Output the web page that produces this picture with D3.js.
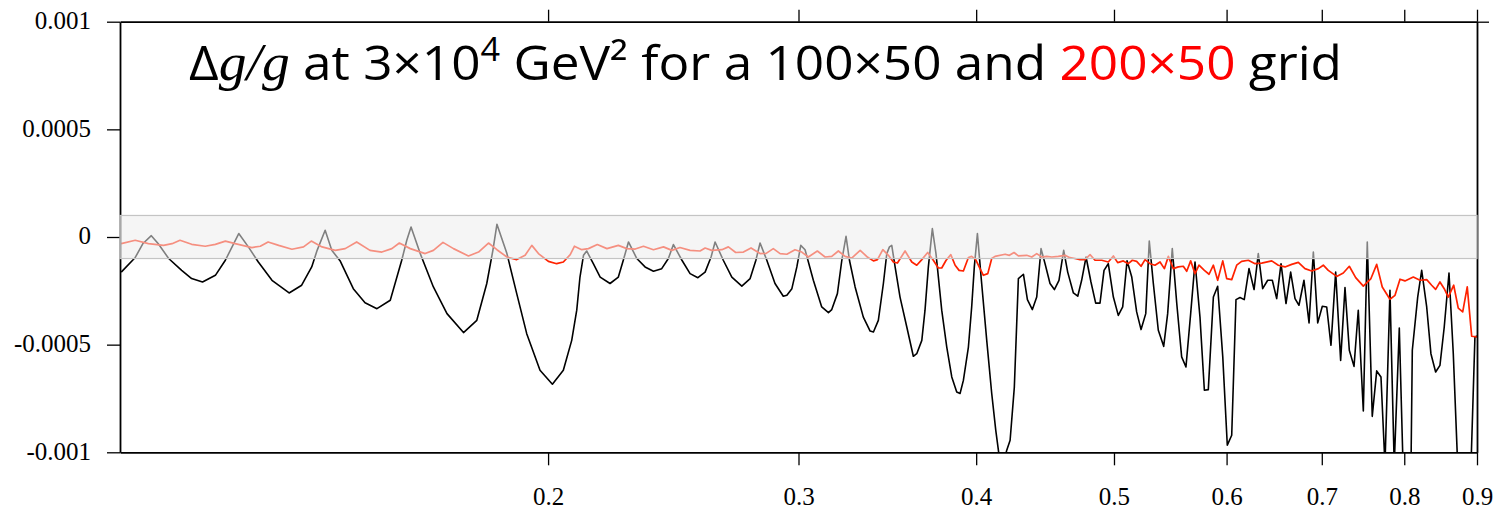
<!DOCTYPE html>
<html><head><meta charset="utf-8">
<script src="https://cdn.jsdelivr.net/npm/d3@7"></script>
<style>body{margin:0;background:#fff;} svg{display:block}</style>
</head><body><svg id="c" width="1509" height="516"></svg>
<script>
// ---- data ----
const xTicks = [0.2, 0.3, 0.4, 0.5, 0.6, 0.7, 0.8, 0.9];
const xTickLabels = ["0.2", "0.3", "0.4", "0.5", "0.6", "0.7", "0.8", "0.9"];
const yTicks = [-0.001, -0.0005, 0, 0.0005, 0.001];
const yTickLabels = ["-0.001", "-0.0005", "0", "0.0005", "0.001"];
const bandLimit = 0.0001;

// 100x50 grid: [x, delta g / g]
const grid100 = [
[0.1002,-1.63e-4],[0.1025,-0.95e-4],[0.1038,-0.30e-4],[0.1052,0.06e-4],[0.1064,-0.31e-4],[0.1082,-1.00e-4],
[0.1105,-1.55e-4],[0.1123,-1.93e-4],[0.1143,-2.09e-4],[0.1167,-1.78e-4],[0.1186,-1.08e-4],[0.1212,0.16e-4],
[0.1231,-0.46e-4],[0.1251,-1.16e-4],[0.1279,-2.01e-4],[0.1315,-2.60e-4],[0.1342,-2.24e-4],[0.1364,-1.39e-4],
[0.1376,-0.62e-4],[0.1394,0.31e-4],[0.1409,-0.62e-4],[0.1428,-1.10e-4],[0.1459,-2.40e-4],[0.1487,-3.05e-4],
[0.1516,-3.33e-4],[0.1549,-2.94e-4],[0.1578,-1.08e-4],[0.1591,-0.15e-4],[0.1602,0.46e-4],[0.1626,-0.77e-4],
[0.1661,-2.32e-4],[0.1698,-3.56e-4],[0.1744,-4.44e-4],[0.1782,-3.87e-4],[0.1811,-2.16e-4],[0.1829,-0.62e-4],
[0.1841,0.59e-4],[0.1871,-0.77e-4],[0.1901,-2.63e-4],[0.1932,-4.49e-4],[0.1974,-6.19e-4],[0.2014,-6.84e-4],
[0.2050,-6.19e-4],[0.2078,-4.80e-4],[0.2095,-3.40e-4],[0.2106,-1.86e-4],[0.2118,-0.85e-4],[0.2129,-0.65e-4],
[0.2152,-1.24e-4],[0.2176,-1.86e-4],[0.2211,-2.16e-4],[0.2241,-1.86e-4],[0.2259,-1.08e-4],[0.2278,-0.23e-4],
[0.2309,-1.00e-4],[0.2340,-1.39e-4],[0.2372,-1.59e-4],[0.2404,-1.47e-4],[0.2430,-1.00e-4],[0.2450,-0.35e-4],
[0.2484,-1.08e-4],[0.2517,-1.70e-4],[0.2549,-1.89e-4],[0.2579,-1.63e-4],[0.2604,-0.93e-4],[0.2621,-0.23e-4],
[0.2656,-1.08e-4],[0.2693,-1.86e-4],[0.2737,-2.28e-4],[0.2774,-1.93e-4],[0.2800,-1.08e-4],[0.2819,-0.28e-4],
[0.2850,-1.08e-4],[0.2888,-2.16e-4],[0.2927,-2.75e-4],[0.2944,-2.71e-4],[0.2968,-2.40e-4],[0.2992,-1.39e-4],
[0.3011,-0.39e-4],[0.3032,-0.59e-4],[0.3073,-2.01e-4],[0.3115,-3.25e-4],[0.3149,-3.51e-4],[0.3166,-3.37e-4],
[0.3195,-2.63e-4],[0.3218,-1.08e-4],[0.3240,0.03e-4],[0.3258,-1.08e-4],[0.3288,-2.32e-4],[0.3332,-3.72e-4],
[0.3369,-4.37e-4],[0.3387,-4.41e-4],[0.3414,-3.87e-4],[0.3442,-2.16e-4],[0.3461,-0.77e-4],[0.3476,-0.46e-4],
[0.3489,-0.39e-4],[0.3508,-1.39e-4],[0.3536,-2.79e-4],[0.3575,-4.18e-4],[0.3613,-5.54e-4],[0.3633,-5.42e-4],
[0.3663,-4.80e-4],[0.3682,-3.40e-4],[0.3702,-1.39e-4],[0.3726,0.39e-4],[0.3748,-0.77e-4],[0.3783,-3.40e-4],
[0.3814,-5.11e-4],[0.3845,-6.50e-4],[0.3876,-7.20e-4],[0.3897,-7.27e-4],[0.3918,-6.66e-4],[0.3950,-5.11e-4],
[0.3971,-3.25e-4],[0.3988,-1.39e-4],[0.4008,0.16e-4],[0.4032,-1.86e-4],[0.4069,-4.80e-4],[0.4102,-7.27e-4],
[0.4129,-8.98e-4],[0.4158,-10.5e-4],[0.4178,-10.6e-4],[0.4203,-9.90e-4],[0.4226,-9.44e-4],[0.4255,-6.97e-4],
[0.4283,-1.93e-4],[0.4318,-1.73e-4],[0.4346,-2.91e-4],[0.4381,-3.37e-4],[0.4412,-2.79e-4],[0.4443,-0.54e-4],
[0.4472,-1.24e-4],[0.4508,-2.16e-4],[0.4540,-2.44e-4],[0.4574,-2.01e-4],[0.4609,-0.62e-4],[0.4639,-1.63e-4],
[0.4682,-2.60e-4],[0.4715,-2.75e-4],[0.4745,-2.01e-4],[0.4779,-0.93e-4],[0.4817,-2.09e-4],[0.4854,-3.07e-4],
[0.4888,-3.07e-4],[0.4920,-1.55e-4],[0.4954,-1.24e-4],[0.4995,-2.79e-4],[0.5035,-3.64e-4],[0.5071,-3.25e-4],
[0.5107,-1.10e-4],[0.5146,-1.86e-4],[0.5187,-3.48e-4],[0.5224,-4.30e-4],[0.5264,-3.56e-4],[0.5294,-0.19e-4],
[0.5329,-2.16e-4],[0.5372,-4.33e-4],[0.5419,-5.08e-4],[0.5454,-3.56e-4],[0.5495,-0.54e-4],[0.5535,-3.09e-4],
[0.5579,-5.57e-4],[0.5618,-6.04e-4],[0.5661,-3.56e-4],[0.5701,-1.16e-4],[0.5747,-3.72e-4],[0.5788,-7.12e-4],
[0.5825,-7.09e-4],[0.5873,-2.79e-4],[0.5914,-2.29e-4],[0.5963,-5.57e-4],[0.6007,-9.67e-4],[0.6050,-9.21e-4],
[0.6092,-2.91e-4],[0.6132,-2.81e-4],[0.6174,-2.91e-4],[0.6222,-1.47e-4],[0.6273,-2.44e-4],[0.6316,-0.77e-4],
[0.6361,-2.40e-4],[0.6413,-2.01e-4],[0.6461,-2.01e-4],[0.6507,-2.86e-4],[0.6553,-1.24e-4],[0.6606,-3.09e-4],
[0.6656,-1.63e-4],[0.6703,-2.86e-4],[0.6746,-3.17e-4],[0.6801,-2.01e-4],[0.6857,-3.99e-4],[0.6905,-0.70e-4],
[0.6954,-3.99e-4],[0.7006,-3.22e-4],[0.7056,-3.25e-4],[0.7105,-5.03e-4],[0.7159,-1.63e-4],[0.7217,-5.73e-4],
[0.7268,-2.35e-4],[0.7319,-5.26e-4],[0.7375,-6.01e-4],[0.7426,-3.40e-4],[0.7487,-8.08e-4],[0.7535,-0.23e-4],
[0.7596,-8.33e-4],[0.7651,-6.22e-4],[0.7704,-6.50e-4],[0.7754,-10.6e-4],[0.7817,-2.48e-4],[0.7871,-10.6e-4],
[0.7936,-4.23e-4],[0.7984,-10.6e-4],[0.8035,-11.5e-4],[0.8088,-10.6e-4],[0.8105,-5.26e-4],[0.8176,-2.79e-4],
[0.8229,-1.55e-4],[0.8296,-3.25e-4],[0.8353,-5.42e-4],[0.8417,-6.27e-4],[0.8476,-5.96e-4],[0.8535,-4.18e-4],
[0.8601,-1.67e-4],[0.8661,-5.42e-4],[0.8723,-10.6e-4],[0.8812,-12.0e-4],[0.8913,-10.6e-4],[0.8970,-4.64e-4],
[0.9000,-4.60e-4]
];

// 200x50 grid: [x, delta g / g]
const grid200 = [
[0.1002,-0.31e-4],[0.1025,-0.15e-4],[0.1047,-0.31e-4],[0.1073,-0.39e-4],[0.1088,-0.31e-4],[0.1102,-0.15e-4],
[0.1123,-0.34e-4],[0.1148,-0.43e-4],[0.1167,-0.34e-4],[0.1186,-0.19e-4],[0.1205,-0.31e-4],[0.1238,-0.49e-4],
[0.1255,-0.43e-4],[0.1271,-0.23e-4],[0.1293,-0.39e-4],[0.1321,-0.57e-4],[0.1346,-0.46e-4],[0.1363,-0.19e-4],
[0.1387,-0.46e-4],[0.1417,-0.62e-4],[0.1440,-0.54e-4],[0.1467,-0.23e-4],[0.1499,-0.62e-4],[0.1528,-0.70e-4],
[0.1553,-0.54e-4],[0.1572,-0.28e-4],[0.1600,-0.54e-4],[0.1639,-0.77e-4],[0.1661,-0.62e-4],[0.1687,-0.25e-4],
[0.1716,-0.54e-4],[0.1758,-0.88e-4],[0.1787,-0.70e-4],[0.1816,-0.28e-4],[0.1841,-0.59e-4],[0.1871,-0.93e-4],
[0.1901,-1.05e-4],[0.1927,-0.85e-4],[0.1948,-0.39e-4],[0.1969,-0.77e-4],[0.2001,-1.13e-4],[0.2028,-1.24e-4],
[0.2050,-1.16e-4],[0.2073,-0.82e-4],[0.2087,-0.43e-4],[0.2112,-0.59e-4],[0.2135,-0.54e-4],[0.2166,-0.35e-4],
[0.2200,-0.54e-4],[0.2241,-0.39e-4],[0.2272,-0.54e-4],[0.2303,-0.56e-4],[0.2334,-0.43e-4],[0.2372,-0.59e-4],
[0.2411,-0.46e-4],[0.2444,-0.62e-4],[0.2476,-0.49e-4],[0.2517,-0.62e-4],[0.2558,-0.65e-4],[0.2579,-0.51e-4],
[0.2607,-0.62e-4],[0.2650,-0.59e-4],[0.2678,-0.46e-4],[0.2710,-0.72e-4],[0.2744,-0.70e-4],[0.2778,-0.51e-4],
[0.2819,-0.77e-4],[0.2847,-0.76e-4],[0.2880,-0.54e-4],[0.2912,-0.77e-4],[0.2944,-0.80e-4],[0.2983,-0.59e-4],
[0.3016,-0.70e-4],[0.3048,-0.93e-4],[0.3093,-0.65e-4],[0.3132,-0.93e-4],[0.3166,-0.90e-4],[0.3200,-0.65e-4],
[0.3235,-0.90e-4],[0.3270,-0.98e-4],[0.3315,-0.62e-4],[0.3354,-0.93e-4],[0.3387,-1.11e-4],[0.3409,-1.05e-4],
[0.3439,-0.59e-4],[0.3470,-0.85e-4],[0.3498,-1.16e-4],[0.3521,-1.21e-4],[0.3565,-0.65e-4],[0.3604,-1.16e-4],
[0.3633,-1.31e-4],[0.3663,-1.05e-4],[0.3698,-0.72e-4],[0.3732,-1.08e-4],[0.3762,-1.44e-4],[0.3783,-1.44e-4],
[0.3810,-1.08e-4],[0.3839,-0.82e-4],[0.3866,-1.31e-4],[0.3891,-1.55e-4],[0.3918,-1.58e-4],[0.3950,-0.95e-4],
[0.3971,-0.90e-4],[0.3997,-1.05e-4],[0.4025,-1.47e-4],[0.4047,-1.78e-4],[0.4076,-1.70e-4],[0.4102,-1.00e-4],
[0.4124,-0.90e-4],[0.4192,-0.80e-4],[0.4221,-0.85e-4],[0.4253,-0.72e-4],[0.4283,-0.88e-4],[0.4341,-0.85e-4],
[0.4377,-0.93e-4],[0.4412,-0.77e-4],[0.4448,-0.93e-4],[0.4484,-0.90e-4],[0.4521,-0.93e-4],[0.4569,-0.90e-4],
[0.4619,-0.85e-4],[0.4656,-0.96e-4],[0.4694,-1.00e-4],[0.4733,-1.05e-4],[0.4771,-1.05e-4],[0.4810,-0.82e-4],
[0.4849,-1.08e-4],[0.4902,-1.08e-4],[0.4954,-1.16e-4],[0.4995,-0.88e-4],[0.5030,-1.19e-4],[0.5076,-1.11e-4],
[0.5117,-1.24e-4],[0.5151,-1.08e-4],[0.5187,-1.13e-4],[0.5224,-1.36e-4],[0.5258,-1.05e-4],[0.5300,-1.24e-4],
[0.5343,-1.31e-4],[0.5387,-1.16e-4],[0.5425,-1.47e-4],[0.5460,-0.90e-4],[0.5504,-1.47e-4],[0.5549,-1.39e-4],
[0.5594,-1.36e-4],[0.5625,-1.59e-4],[0.5661,-1.11e-4],[0.5701,-1.70e-4],[0.5738,-1.31e-4],[0.5788,-1.55e-4],
[0.5832,-1.73e-4],[0.5873,-1.31e-4],[0.5914,-2.01e-4],[0.5963,-1.11e-4],[0.6001,-1.93e-4],[0.6050,-1.98e-4],
[0.6099,-1.31e-4],[0.6148,-1.13e-4],[0.6215,-1.08e-4],[0.6283,-1.24e-4],[0.6351,-1.21e-4],[0.6455,-1.11e-4],
[0.6524,-1.31e-4],[0.6595,-1.39e-4],[0.6667,-1.27e-4],[0.6739,-1.18e-4],[0.6812,-1.47e-4],[0.6887,-1.58e-4],
[0.6961,-1.47e-4],[0.7017,-1.31e-4],[0.7074,-1.55e-4],[0.7171,-1.83e-4],[0.7248,-1.67e-4],[0.7319,-1.36e-4],
[0.7395,-1.89e-4],[0.7487,-2.28e-4],[0.7580,-1.93e-4],[0.7651,-1.27e-4],[0.7720,-2.32e-4],[0.7817,-2.89e-4],
[0.7881,-2.71e-4],[0.7945,-1.96e-4],[0.8009,-2.04e-4],[0.8118,-1.86e-4],[0.8206,-2.01e-4],[0.8296,-1.98e-4],
[0.8363,-2.24e-4],[0.8417,-2.43e-4],[0.8476,-2.09e-4],[0.8535,-2.40e-4],[0.8591,-2.79e-4],[0.8667,-2.24e-4],
[0.8731,-3.30e-4],[0.8794,-3.48e-4],[0.8859,-2.32e-4],[0.8923,-4.61e-4],[0.9000,-4.64e-4]
];

// ---- drawing ----
const svg = d3.select("#c");
const x = d3.scaleLog().domain([0.1, 0.9]).range([120, 1477]);
const y = d3.scaleLinear().domain([-0.001, 0.001]).range([452.3, 21.7]);

svg.append("defs").append("clipPath").attr("id", "plot")
  .append("rect").attr("x", 120).attr("y", 21.7).attr("width", 1357).attr("height", 430.6);

const line = d3.line().x(d => x(d[0])).y(d => y(d[1]));

const plot = svg.append("g").attr("clip-path", "url(#plot)");
plot.append("path").datum(grid100).attr("d", line)
  .attr("fill", "none").attr("stroke", "#000").attr("stroke-width", 1.6).attr("stroke-linejoin", "round");
plot.append("path").datum(grid200).attr("d", line)
  .attr("fill", "none").attr("stroke", "#ff2200").attr("stroke-width", 1.7).attr("stroke-linejoin", "round");

// axes
const fontAxis = "'Liberation Serif', 'Times New Roman', serif";
function styleAxis(g) {
  g.select(".domain").attr("stroke", "#000").attr("stroke-width", 1.8);
  g.selectAll(".tick line").attr("stroke", "#000").attr("stroke-width", 1.3);
  g.selectAll(".tick text").attr("fill", "#000").attr("font-family", fontAxis).attr("font-size", 25);
}
svg.append("g").attr("transform", "translate(0,452.3)")
  .call(d3.axisBottom(x).tickValues(xTicks).tickFormat((d, i) => xTickLabels[i]).tickSize(13).tickSizeOuter(0).tickPadding(22))
  .call(styleAxis);
svg.append("g").attr("transform", "translate(0,21.7)")
  .call(d3.axisTop(x).tickValues(xTicks).tickFormat("").tickSize(12).tickSizeOuter(0))
  .call(styleAxis);
const yAx = svg.append("g").attr("transform", "translate(120,0)")
  .call(d3.axisLeft(y).tickValues(yTicks).tickFormat((d, i) => yTickLabels[i]).tickSize(13).tickSizeOuter(0).tickPadding(16))
  .call(styleAxis);
yAx.selectAll(".tick text").attr("dy", "0.27em");
svg.append("g").attr("transform", "translate(1477,0)")
  .call(d3.axisRight(y).tickValues([0.001]).tickFormat("").tickSize(12).tickSizeOuter(0))
  .call(styleAxis);

// tolerance band drawn over the curves
svg.append("rect")
  .attr("x", x(0.1)).attr("width", x(0.9) - x(0.1))
  .attr("y", y(bandLimit)).attr("height", y(-bandLimit) - y(bandLimit))
  .attr("fill", "rgb(237,237,237)").attr("fill-opacity", 0.54)
  .attr("stroke", "#c4c4c4").attr("stroke-width", 1.2);

// title
const t = svg.append("text").attr("x", 189).attr("y", 80)
  .attr("font-family", "'Open Sans', 'Noto Sans', sans-serif").attr("font-size", 48).attr("fill", "#000")
  .attr("textLength", 1153).attr("lengthAdjust", "spacingAndGlyphs");
t.append("tspan").text("Δ");
t.append("tspan").attr("font-family", "'Liberation Serif', serif").attr("font-style", "italic").attr("font-size", 52).text("g/g");
t.append("tspan").text(" at 3×10");
t.append("tspan").attr("dy", -19).attr("font-size", 32).text("4");
t.append("tspan").attr("dy", 19).text(" GeV² for a 100×50 and ");
t.append("tspan").attr("fill", "#ff0000").text("200×50");
t.append("tspan").text(" grid");
</script>
</body></html>
